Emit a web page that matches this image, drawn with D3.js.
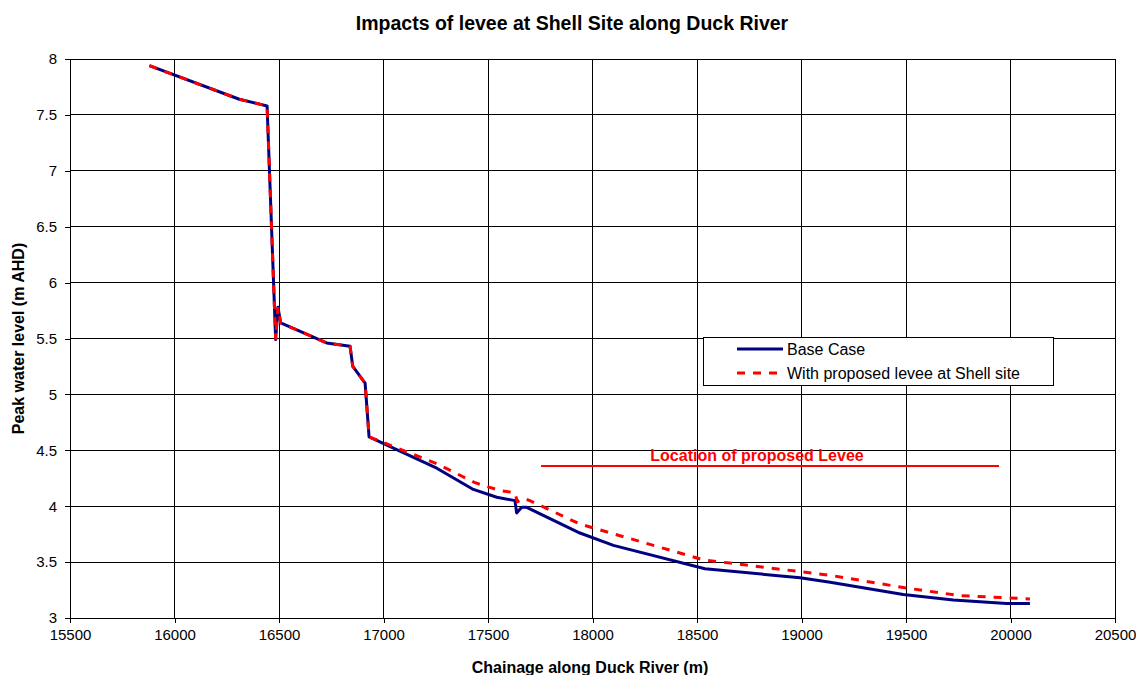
<!DOCTYPE html>
<html><head><meta charset="utf-8">
<script src="https://cdn.jsdelivr.net/npm/d3@7"></script>
<style>body{margin:0;background:#fff;font-family:Arial,"Liberation Sans",sans-serif}</style>
</head><body>
<svg id="c" width="1136" height="675"></svg>
<script>
const chartTitle = "Impacts of levee at Shell Site along Duck River";
const xLabel = "Chainage along Duck River (m)";
const yLabel = "Peak water level (m AHD)";
const seriesNames = ["Base Case", "With proposed levee at Shell site"];
const xTicks = [15500,16000,16500,17000,17500,18000,18500,19000,19500,20000,20500];
const yTicks = [3,3.5,4,4.5,5,5.5,6,6.5,7,7.5,8];

const baseX = [15880,16310,16443,16484,16495,16508,16728,16840,16853,16912,16931,17255,17430,17542,17629,17637,17661,17685,17940,18100,18538,18993,19137,19487,19726,19982,20093];
const baseY = [7.94,7.64,7.58,5.49,5.78,5.64,5.46,5.43,5.25,5.10,4.62,4.34,4.15,4.08,4.05,3.94,3.99,3.99,3.76,3.65,3.44,3.36,3.32,3.21,3.16,3.13,3.13];
const leveeX = [15880,16310,16443,16484,16495,16508,16728,16840,16853,16912,16931,17255,17438,17558,17629,17640,17670,17700,17940,18531,19144,19495,19758,19990,20093];
const leveeY = [7.94,7.64,7.58,5.49,5.78,5.64,5.46,5.43,5.25,5.10,4.62,4.38,4.21,4.14,4.12,4.04,4.07,4.05,3.84,3.52,3.38,3.27,3.20,3.18,3.17];
const annotText = "Location of proposed Levee";
const annotX = [17754, 19945];
const annotY = 4.36;

const svg = d3.select("#c");
const L = 70, R = 1115, T = 59, B = 618;
const x = d3.scaleLinear().domain([15500,20500]).range([L,R]);
const y = d3.scaleLinear().domain([3,8]).range([B,T]);

// gridlines
svg.append("g").selectAll("line.v").data(xTicks).join("line")
  .attr("x1",d=>x(d)).attr("x2",d=>x(d)).attr("y1",T).attr("y2",B)
  .attr("stroke","#000").attr("stroke-width",1).attr("shape-rendering","crispEdges");
svg.append("g").selectAll("line.h").data(yTicks).join("line")
  .attr("x1",L).attr("x2",R).attr("y1",d=>y(d)).attr("y2",d=>y(d))
  .attr("stroke","#000").attr("stroke-width",1).attr("shape-rendering","crispEdges");

// axes
const xa = svg.append("g").attr("transform",`translate(0,${B})`)
  .call(d3.axisBottom(x).tickValues(xTicks).tickFormat(d3.format("d")).tickSize(5).tickPadding(6));
const ya = svg.append("g").attr("transform",`translate(${L},0)`)
  .call(d3.axisLeft(y).tickValues(yTicks).tickFormat(d=>String(d)).tickSize(5).tickPadding(8));
[xa,ya].forEach(a=>{
  a.select(".domain").attr("stroke","#000").attr("shape-rendering","crispEdges");
  a.selectAll(".tick line").attr("stroke","#000").attr("shape-rendering","crispEdges");
  a.selectAll("text").attr("font-family","Arial, 'Liberation Sans', sans-serif").attr("font-size",15).attr("fill","#000");
});

const line = d3.line().x(d=>x(d[0])).y(d=>y(d[1]));
const base = baseX.map((v,i)=>[v,baseY[i]]);
const levee = leveeX.map((v,i)=>[v,leveeY[i]]);
svg.append("path").datum(base).attr("d",line).attr("fill","none")
  .attr("stroke","#000080").attr("stroke-width",3).attr("stroke-linejoin","round");
svg.append("path").datum(levee).attr("d",line).attr("fill","none")
  .attr("stroke","#ff0000").attr("stroke-width",3).attr("stroke-dasharray","8,8");

// annotation
svg.append("line").attr("x1",x(annotX[0])).attr("x2",x(annotX[1]))
  .attr("y1",y(annotY)).attr("y2",y(annotY)).attr("stroke","#ff0000").attr("stroke-width",2);
svg.append("text").attr("x",757).attr("y",y(annotY)-5)
  .attr("text-anchor","middle").attr("font-size",16).attr("font-weight","bold").attr("fill","#ff0000")
  .text(annotText);

// legend
const lg = svg.append("g");
lg.append("rect").attr("x",703.5).attr("y",337.5).attr("width",350).attr("height",48)
  .attr("fill","#fff").attr("stroke","#000").attr("stroke-width",1);
const lgStroke = ["#000080","#ff0000"], lgDash = [null,"8,8"];
seriesNames.forEach((n,i)=>{
  const yy = 349 + i*24;
  lg.append("line").attr("x1",737).attr("x2",783).attr("y1",yy).attr("y2",yy)
    .attr("stroke",lgStroke[i]).attr("stroke-width",3).attr("stroke-dasharray",lgDash[i]);
  lg.append("text").attr("x",787).attr("y",yy+6).attr("font-size",16).attr("fill","#000").text(n);
});

// titles
svg.append("text").attr("x",572).attr("y",30).attr("text-anchor","middle")
  .attr("font-size",19.5).attr("font-weight","bold").text(chartTitle);
svg.append("text").attr("x",590).attr("y",673).attr("text-anchor","middle")
  .attr("font-size",16).attr("font-weight","bold").text(xLabel);
svg.append("text").attr("transform",`translate(24,${(T+B)/2}) rotate(-90)`).attr("text-anchor","middle")
  .attr("font-size",16).attr("font-weight","bold").text(yLabel);
</script>
</body></html>
